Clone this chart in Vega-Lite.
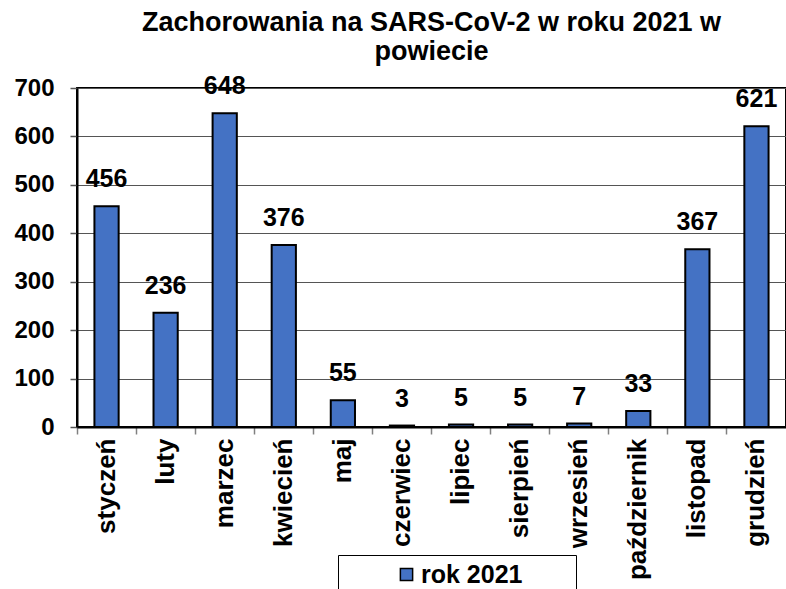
{
  "$schema": "https://vega.github.io/schema/vega-lite/v6.json",
  "autosize": "none",
  "width": 709,
  "height": 339,
  "padding": {"left": 77, "top": 88, "right": 0, "bottom": 162},
  "background": "white",
  "title": {
    "text": ["Zachorowania na SARS-CoV-2 w roku 2021 w", "powiecie"],
    "font": "Liberation Sans",
    "fontSize": 27,
    "fontWeight": "bold",
    "color": "black",
    "anchor": "middle",
    "lineHeight": 29,
    "offset": 8
  },
  "config": {
    "view": {"stroke": "black", "strokeWidth": 2},
    "font": "Liberation Sans"
  },
  "data": {
    "values": [
      {"miesiac": "styczeń", "wartosc": 456, "seria": "rok 2021"},
      {"miesiac": "luty", "wartosc": 236, "seria": "rok 2021"},
      {"miesiac": "marzec", "wartosc": 648, "seria": "rok 2021"},
      {"miesiac": "kwiecień", "wartosc": 376, "seria": "rok 2021"},
      {"miesiac": "maj", "wartosc": 55, "seria": "rok 2021"},
      {"miesiac": "czerwiec", "wartosc": 3, "seria": "rok 2021"},
      {"miesiac": "lipiec", "wartosc": 5, "seria": "rok 2021"},
      {"miesiac": "sierpień", "wartosc": 5, "seria": "rok 2021"},
      {"miesiac": "wrzesień", "wartosc": 7, "seria": "rok 2021"},
      {"miesiac": "październik", "wartosc": 33, "seria": "rok 2021"},
      {"miesiac": "listopad", "wartosc": 367, "seria": "rok 2021"},
      {"miesiac": "grudzień", "wartosc": 621, "seria": "rok 2021"}
    ]
  },
  "encoding": {
    "x": {
      "field": "miesiac",
      "type": "nominal",
      "sort": null,
      "title": null,
      "scale": {"paddingInner": 0, "paddingOuter": 0},
      "axis": {
        "labelAngle": -90,
        "labelAlign": "right",
        "labelBaseline": "middle",
        "labelFont": "Liberation Sans",
        "labelFontSize": 26,
        "labelFontWeight": "bold",
        "labelColor": "black",
        "labelPadding": 4,
        "tickSize": 7,
        "tickColor": "#808080",
        "tickWidth": 1.5,
        "bandPosition": 0,
        "domainColor": "black",
        "domainWidth": 2,
        "grid": false
      }
    },
    "y": {
      "field": "wartosc",
      "type": "quantitative",
      "title": null,
      "scale": {"domain": [0, 700], "nice": false},
      "axis": {
        "values": [0, 100, 200, 300, 400, 500, 600, 700],
        "labelFont": "Liberation Sans",
        "labelFontSize": 24,
        "labelFontWeight": "bold",
        "labelColor": "black",
        "labelPadding": 16,
        "tickSize": 7,
        "tickColor": "#555555",
        "tickWidth": 1.5,
        "domainColor": "black",
        "domainWidth": 2,
        "grid": true,
        "gridColor": "#555555",
        "gridWidth": 1.2
      }
    }
  },
  "layer": [
    {
      "mark": {"type": "bar", "width": {"band": 0.41}, "stroke": "black", "strokeWidth": 2},
      "encoding": {
        "color": {
          "field": "seria",
          "type": "nominal",
          "scale": {"range": ["#4472C4"]},
          "legend": {
            "title": " ",
            "titleOrient": "right",
            "titlePadding": 47,
            "titleFontSize": 24,
            "orient": "none",
            "legendX": 261,
            "legendY": 467,
            "strokeColor": "black",
            "padding": 7,
            "symbolType": "square",
            "symbolSize": 150,
            "symbolStrokeColor": "black",
            "symbolStrokeWidth": 1.5,
            "symbolOffset": 49,
            "labelFont": "Liberation Sans",
            "labelFontSize": 25,
            "labelFontWeight": "bold",
            "labelColor": "black",
            "labelOffset": 2
          }
        }
      }
    },
    {
      "mark": {
        "type": "text",
        "baseline": "middle",
        "dy": -27,
        "font": "Liberation Sans",
        "fontSize": 25,
        "fontWeight": "bold",
        "color": "black"
      },
      "encoding": {
        "text": {"field": "wartosc", "type": "quantitative"}
      }
    }
  ]
}
